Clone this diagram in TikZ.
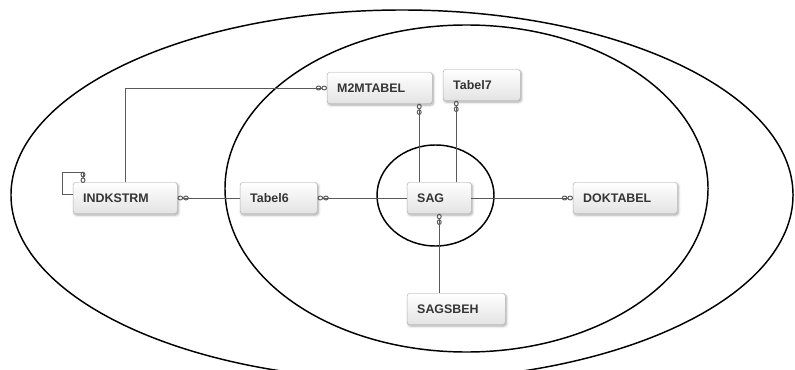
\documentclass[tikz,border=0pt]{standalone}
\usepackage{fontspec}
\setmainfont{Liberation Sans}
\usepackage{xcolor}
\usepackage{tikz}
\usetikzlibrary{calc}
\usetikzlibrary{arrows.meta,shadows.blur}
\definecolor{tblline}{HTML}{5A5A5A}
\definecolor{tbltext}{HTML}{353535}
\tikzset{
	zm/.tip={Circle[open,length=4.8pt,width=4.2pt] Circle[open,length=4.8pt,width=4.2pt]},
	tbl/.style={
			rectangle, rounded corners=2pt, draw=gray!60, top color=white, bottom color=gray!22,
			anchor=west, minimum height=0.93cm, inner xsep=0.3cm, inner ysep=0pt, text width=#1,
			font=\fontsize{10.6}{12}\selectfont\bfseries, text=tbltext,
			blur shadow={shadow blur steps=6, shadow xshift=0.9pt, shadow yshift=-1.3pt, shadow opacity=35}
		},
	rel/.style={draw=tblline, line width=0.85pt},
	ring/.style={draw=black, line width=1.25pt}
}

\begin{document}
\begin{tikzpicture}[x=0.03cm, y=-0.03cm]
			\useasboundingbox (0,0) rectangle (795,370);
			\clip (0,0) rectangle (795,370);
			% the three sets
			\draw[ring] (402,195) ellipse [x radius=11.73cm, y radius=5.55cm];
			\draw[ring] (466.5,188.5) ellipse [x radius=7.245cm, y radius=4.905cm];
			\draw[ring] (435.5,195.5) ellipse [x radius=1.755cm, y radius=1.515cm];

			% tables
			\node[tbl=2.52cm] (indk) at (73,198) {INDKSTRM};
			\node[tbl=1.71cm] (tab6) at (240,198) {Tabel6};
			\node[tbl=1.32cm] (sag) at (407,198) {SAG};
			\node[tbl=2.55cm] (m2m) at (327,88) {M2MTABEL};
			\node[tbl=1.71cm] (tab7) at (443,85) {Tabel7};
			\node[tbl=2.34cm] (sgb) at (407,309) {SAGSBEH};
			\node[tbl=2.52cm] (dok) at (573,198) {DOKTABEL};

			% relations
			\draw[rel, -zm] ([yshift=0.12cm]indk.west) -- ++(-11,0) -- ++(0,-22) -- ++(21,0) -- ++(0,11);
			\draw[rel, -zm] (indk.north) |- (m2m.west);
			\draw[rel, zm-] (indk.east) -- (tab6.west);
			\draw[rel, zm-] (tab6.east) -- (sag.west);
			\draw[rel, -zm] ([xshift=-0.6cm]sag.north) -- ([xshift=-0.6cm]sag.north |- m2m.south);
			\draw[rel, -zm] ([xshift=0.51cm]sag.north) -- ([xshift=0.51cm]sag.north |- tab7.south);
			\draw[rel, zm-] (sag.south) -- (sag.south |- sgb.north);
			\draw[rel, -zm] (sag.east) -- (dok.west);
		\end{tikzpicture}
\end{document}
